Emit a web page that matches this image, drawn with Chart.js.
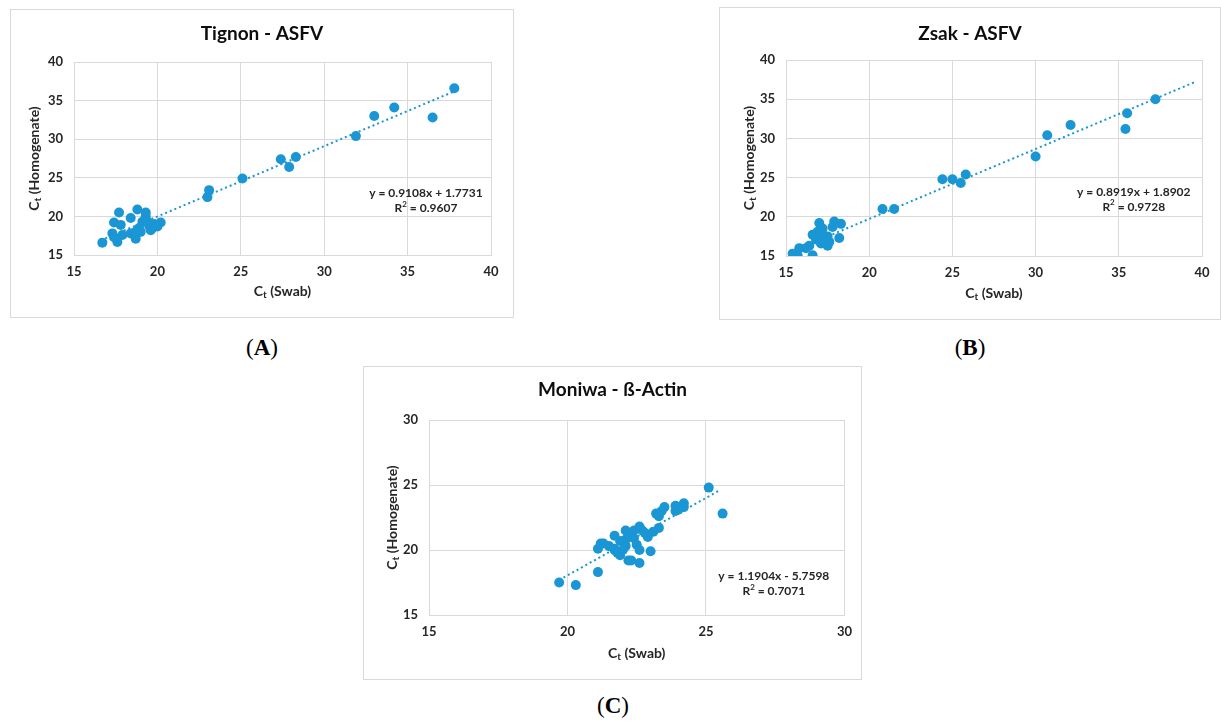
<!DOCTYPE html>
<html>
<head>
<meta charset="utf-8">
<title>Ct swab vs homogenate</title>
<script src="https://cdn.jsdelivr.net/npm/chart.js@4.4.1/dist/chart.umd.min.js"></script>
<style>
  html, body { margin: 0; padding: 0; background: #fff; }
  body { width: 1221px; height: 722px; position: relative; overflow: hidden; }
  .panel { position: absolute; border: 1px solid #d9d9d9; box-sizing: border-box; background: #fff; }
  .panel canvas { display: block; }
  .tag { position: absolute; font-family: 'Liberation Serif', 'Times New Roman', serif; font-size: 23px; line-height: 1; color: #000; transform: translateX(-50%); white-space: nowrap; }
</style>
</head>
<body>
<div class="panel" id="boxA"><canvas id="chartA"></canvas></div>
<div class="panel" id="boxB"><canvas id="chartB"></canvas></div>
<div class="panel" id="boxC"><canvas id="chartC"></canvas></div>
<div class="tag" style="left:262px;top:336px">(<b>A</b>)</div>
<div class="tag" style="left:970px;top:336px">(<b>B</b>)</div>
<div class="tag" style="left:613px;top:694px">(<b>C</b>)</div>
<script>
// Tignon - ASFV
const tignonSwab  = [16.7, 17.7, 18.8, 19.3, 17.4, 17.8, 18.4, 17.3, 17.6, 17.4, 17.9, 18.4, 18.7, 18.9, 19.1, 19.3, 19.0, 19.5, 19.6, 19.8, 20.0, 20.2, 19.7, 19.4, 18.7, 23.0, 23.1, 25.1, 27.4, 28.3, 27.9, 31.9, 33.0, 34.2, 36.5, 37.8];
const tignonHomog = [16.6, 20.5, 20.9, 20.5, 19.2, 18.9, 19.8, 17.8, 16.7, 17.3, 17.6, 17.8, 17.1, 18.5, 19.3, 20.0, 18.0, 18.8, 18.2, 19.0, 18.7, 19.2, 18.5, 19.3, 18.0, 22.5, 23.4, 24.9, 27.4, 27.7, 26.4, 30.4, 33.0, 34.1, 32.8, 36.6];
const tignonTrend = [[16.6, 16.89], [37.8, 36.20]];

// Zsak - ASFV
const zsakSwab  = [15.4, 15.7, 15.8, 16.2, 16.4, 16.6, 16.6, 16.8, 17.0, 17.2, 17.2, 17.0, 17.1, 17.4, 17.5, 17.6, 17.9, 17.8, 18.3, 18.2, 16.9, 17.5, 20.8, 21.5, 24.4, 25.0, 25.5, 25.8, 30.0, 30.7, 32.1, 35.4, 35.5, 37.2];
const zsakHomog = [15.3, 15.1, 16.0, 16.0, 16.3, 15.1, 17.7, 17.1, 19.2, 18.5, 17.7, 17.2, 16.6, 17.1, 16.3, 16.8, 19.4, 18.7, 19.1, 17.3, 18.1, 17.5, 21.0, 21.0, 24.8, 24.8, 24.3, 25.4, 27.7, 30.4, 31.7, 31.2, 33.2, 35.0];
const zsakTrend = [[15.3, 15.54], [39.6, 37.21]];

// Moniwa - ß-Actin
const moniwaSwab  = [19.7, 20.3, 21.1, 25.1, 25.6, 22.6, 23.0, 22.2, 22.3, 21.9, 21.7, 21.1, 21.2, 21.3, 21.5, 21.7, 21.7, 22.0, 22.1, 22.1, 22.1, 22.2, 22.4, 22.4, 22.5, 22.6, 22.6, 22.7, 22.8, 22.9, 23.1, 23.3, 23.2, 23.3, 23.5, 23.4, 23.9, 23.9, 24.0, 24.2, 24.2, 21.9, 21.8];
const moniwaHomog = [17.5, 17.3, 18.3, 24.8, 22.8, 19.0, 19.9, 19.2, 19.2, 19.6, 20.0, 20.1, 20.5, 20.5, 20.3, 20.1, 21.1, 20.0, 20.3, 20.8, 21.5, 21.0, 21.5, 20.9, 20.4, 20.0, 21.8, 21.5, 21.3, 21.0, 21.4, 21.7, 22.8, 22.6, 23.3, 23.0, 23.4, 23.0, 23.1, 23.6, 23.3, 20.7, 19.8];
const moniwaTrend = [[19.7, 17.69], [25.5, 24.60]];

const BLUE = '#1a96d4';
const GRID = '#d9d9d9';
const TEXT = '#262626';
const SANS = 'Lato, "Open Sans", "Liberation Sans", sans-serif';

const panels = [
  { key: 'A', title: 'Tignon - ASFV', xs: tignonSwab, ys: tignonHomog, trend: tignonTrend,
    min: 15, max: 40, eq: ['y = 0.9108x + 1.7731', '0.9607'], eqAt: [36.1, 23.0],
    box: [10, 9, 514, 318], plot: [74, 62, 491, 255], titleY: 24, yTitleX: 23, xTitleY: 281 },
  { key: 'B', title: 'Zsak - ASFV', xs: zsakSwab, ys: zsakHomog, trend: zsakTrend,
    min: 15, max: 40, eq: ['y = 0.8919x + 1.8902', '0.9728'], eqAt: [35.9, 23.2],
    box: [719, 7, 1221, 320], plot: [786, 60, 1202, 256], titleY: 26, yTitleX: 29, xTitleY: 285 },
  { key: 'C', title: 'Moniwa - ß-Actin', xs: moniwaSwab, ys: moniwaHomog, trend: moniwaTrend,
    min: 15, max: 30, eq: ['y = 1.1904x - 5.7598', '0.7071'], eqAt: [27.45, 18.0],
    box: [363, 366, 862, 680], plot: [429, 420, 847, 615], titleY: 23, yTitleX: 28, xTitleY: 286 },
];

// "C" with subscript "t" followed by the rest of the label
function drawCt(ctx, rest, cx, cy, rot) {
  const big = 'bold 14px ' + SANS, small = 'bold 10px ' + SANS;
  ctx.save();
  ctx.translate(cx, cy);
  ctx.rotate(rot);
  ctx.font = big; const wC = ctx.measureText('C').width;
  const wR = ctx.measureText(' (' + rest + ')').width;
  ctx.font = small; const wT = ctx.measureText('t').width;
  let x = -(wC + wT + wR) / 2;
  ctx.textAlign = 'left';
  ctx.textBaseline = 'middle';
  ctx.fillStyle = TEXT;
  ctx.font = big; ctx.fillText('C', x, 0); x += wC;
  ctx.font = small; ctx.fillText('t', x, 4); x += wT;
  ctx.font = big; ctx.fillText(' (' + rest + ')', x, 0);
  ctx.restore();
}

const panelText = {
  id: 'panelText',
  afterDraw(chart, args, o) {
    const { ctx, chartArea, scales: { x, y } } = chart;
    ctx.save();
    ctx.fillStyle = '#0d0d0d';
    ctx.textAlign = 'center';
    ctx.textBaseline = 'middle';
    ctx.font = 'bold 19px ' + SANS;
    ctx.fillText(o.title, chart.width / 2, o.titleY);

    drawCt(ctx, 'Swab', (chartArea.left + chartArea.right) / 2, o.xTitleY, 0);
    drawCt(ctx, 'Homogenate', o.yTitleX, (chartArea.top + chartArea.bottom) / 2, -Math.PI / 2);

    // trendline equation
    const ex = x.getPixelForValue(o.eqAt[0]);
    const ey = y.getPixelForValue(o.eqAt[1]);
    ctx.fillStyle = TEXT;
    ctx.font = 'bold 12px ' + SANS;
    ctx.fillText(o.eq[0], ex, ey);
    const r = 'R', s = ' = ' + o.eq[1];
    const wR = ctx.measureText(r).width, wS = ctx.measureText(s).width;
    ctx.font = 'bold 8px ' + SANS;
    const w2 = ctx.measureText('2').width;
    let sx = ex - (wR + w2 + wS) / 2;
    ctx.textAlign = 'left';
    ctx.font = 'bold 12px ' + SANS;
    ctx.fillText(r, sx, ey + 15); sx += wR;
    ctx.font = 'bold 8px ' + SANS;
    ctx.fillText('2', sx, ey + 11); sx += w2;
    ctx.font = 'bold 12px ' + SANS;
    ctx.fillText(s, sx, ey + 15);
    ctx.restore();
  }
};

function makeChart(p) {
  const [bl, bt, br, bb] = p.box;
  const [pl, pt, pr, pb] = p.plot;
  const box = document.getElementById('box' + p.key);
  box.style.left = bl + 'px';
  box.style.top = bt + 'px';
  box.style.width = (br - bl) + 'px';
  box.style.height = (bb - bt) + 'px';
  const canvas = document.getElementById('chart' + p.key);
  const ox = bl + 1, oy = bt + 1;
  const cw = br - bl - 2, ch = bb - bt - 2;
  canvas.width = cw;
  canvas.height = ch;

  const yWidth = pl - ox;
  const xHeight = (oy + ch) - pb;
  const tickFont = { family: SANS, size: 13, weight: 'bold' };

  const axis = (extra) => Object.assign({
    type: 'linear',
    min: p.min,
    max: p.max,
    grid: { color: GRID, lineWidth: 1, drawTicks: false },
    border: { color: GRID, width: 1 },
  }, extra);

  return new Chart(canvas, {
    type: 'scatter',
    data: {
      datasets: [
        {
          label: 'Samples',
          data: p.xs.map((v, i) => ({ x: v, y: p.ys[i] })),
          backgroundColor: BLUE,
          borderColor: BLUE,
          pointRadius: 5,
          pointBorderWidth: 0,
          order: 1,
        },
        {
          type: 'line',
          label: 'Linear',
          data: p.trend.map(([x, y]) => ({ x, y })),
          borderColor: BLUE,
          borderWidth: 2,
          borderDash: [2, 3],
          pointRadius: 0,
          fill: false,
          order: 2,
        }
      ]
    },
    options: {
      responsive: false,
      maintainAspectRatio: false,
      animation: false,
      layout: { padding: { top: pt - oy, right: (ox + cw) - pr, left: 0, bottom: 0 } },
      plugins: {
        legend: { display: false },
        tooltip: { enabled: false },
        panelText: p,
      },
      scales: {
        x: axis({
          position: 'bottom',
          ticks: { stepSize: 5, padding: 9, maxRotation: 0, color: TEXT, font: tickFont },
          afterFit: (s) => { s.height = xHeight; },
        }),
        y: axis({
          position: 'left',
          ticks: { stepSize: 5, padding: 11, color: TEXT, font: tickFont },
          afterFit: (s) => { s.width = yWidth; },
        }),
      }
    },
    plugins: [panelText]
  });
}

panels.forEach(makeChart);
</script>
</body>
</html>
